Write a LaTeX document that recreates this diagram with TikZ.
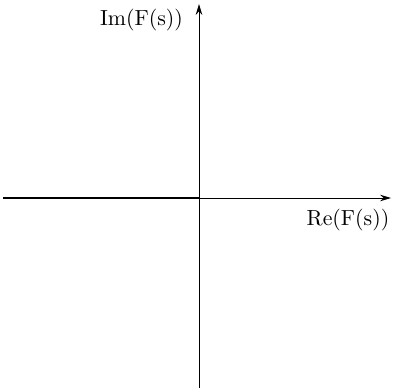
\documentclass[tikz,border=0pt]{standalone}
\usepackage{amsmath,amssymb}
\usepackage{tikz}
\usetikzlibrary{arrows.meta}

\begin{document}
\begin{tikzpicture}[x=0.0161cm, y=-0.0161cm,
		axis/.style={-{Stealth[length=5pt,width=3pt]}, line width=0.45pt},
		axislabel/.style={inner sep=0pt}]
		
		% bounding box (pixel grid of the reference)
		\useasboundingbox (0,0) rectangle (392,392);
		
		% axis end points
		\coordinate (origin) at (199,198);
		\coordinate (reLeft) at (3,198);
		\coordinate (reRight) at (391,198);
		\coordinate (imBottom) at (199,388);
		\coordinate (imTop) at (199,4);
		
		% axes
		\draw[axis] (reLeft) -- (reRight);
		\draw[axis] (imBottom) -- (imTop);
		
		% the negative real axis, highlighted
		\draw[line width=1.1pt] (reLeft) -- (origin);
		
		% labels
		\node[axislabel] (imLabel) at (141.5,20) {Im(F(s))};
		\node[axislabel] (reLabel) at (348,220) {Re(F(s))};
		
	\end{tikzpicture}
\end{document}
